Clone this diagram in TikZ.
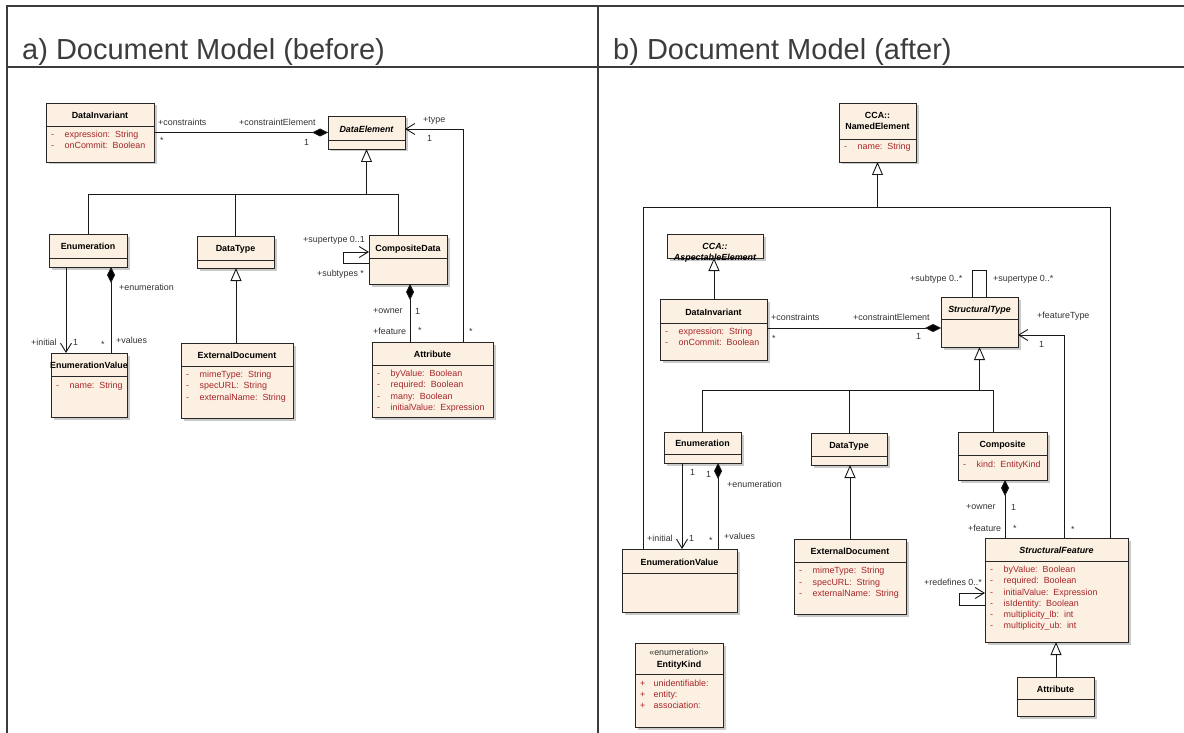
\documentclass[tikz,border=0pt]{standalone}
\usepackage{fontspec}
\setmainfont{Liberation Sans}
\usetikzlibrary{arrows.meta,shadows}
\definecolor{clsfill}{HTML}{FBF0E1}
\definecolor{attred}{HTML}{A8262A}
\definecolor{framecol}{HTML}{3C3C3C}
\definecolor{lblcol}{HTML}{333333}
\tikzset{
 clsbox/.style={draw=black!85, line width=0.9pt, fill=clsfill, inner sep=0pt, outer sep=0pt,
   drop shadow={shadow xshift=2.5pt,shadow yshift=-2.5pt,fill=black!35,opacity=0.6}},
 sepline/.style={draw=black!85, line width=0.9pt},
 cline/.style={draw=black!90, line width=0.9pt},
 gen/.style={cline,-{Triangle[length=13pt,width=11pt,fill=white]}},
 assoc/.style={cline,-{Straight Barb[length=9pt,width=11pt]}},
 comp/.style={cline,-{Diamond[length=16pt,width=8pt,fill=black]}},
 lbl/.style={inner sep=0pt, anchor=west, text=lblcol, font=\fontsize{8.9}{10}\selectfont, text height=6.3pt, text depth=1.8pt},
 ttl/.style={inner sep=0pt, text=black, font=\fontsize{8.9}{10}\selectfont\bfseries, text height=6.3pt, text depth=1.8pt},
 ittl/.style={ttl, font=\fontsize{8.9}{10}\selectfont\bfseries\itshape},
 attr/.style={lbl, text=attred},
 frameline/.style={draw=framecol, line width=2.2pt},
 ptitle/.style={inner sep=0pt, anchor=base west, text=framecol, font=\fontsize{29}{32}\selectfont},
}
\newcommand\umlclass[6]{%
  \node[clsbox, anchor=north west, minimum width={(#4-#2)*1pt}, minimum height={(#5-#3)*1pt}] (#1) at (#2,#3) {};
  \ifx&#6&\else\draw[sepline] (#1.west |- 0,#6) -- (#1.east |- 0,#6);\fi
}
\newcommand\attline[4]{\node[attr] at (#1+5,#2) {#3}; \node[attr] at (#1+18.5,#2) {#4};}
\begin{document}
\begin{tikzpicture}[x=1pt,y=-1pt]
\useasboundingbox (0,0) rectangle (1184,733);
% frame
\draw[frameline] (7,745) -- (7,6) -- (1195,6);
\draw[frameline] (7,67) -- (1195,67);
\draw[frameline] (598,6) -- (598,745);
\node[ptitle] (ta) at (22,60) {a) Document Model (before)};
\node[ptitle] (tb) at (613,60) {b) Document Model (after)};

% ===== left panel =====
\umlclass{DI}{46}{103}{154}{162}{126}
\node[ttl] (DIt) at (100,116) {DataInvariant};
\attline{46}{135}{-}{expression:\ \ String}
\attline{46}{146}{-}{onCommit:\ \ Boolean}

\umlclass{DE}{328}{116}{405}{149}{140}
\node[ittl] (DEt) at (366.5,130) {DataElement};

\umlclass{EN}{49}{234}{127}{267}{258}
\node[ttl] (ENt) at (88,247) {Enumeration};

\umlclass{EV}{51}{353}{127}{417}{376}
\node[ttl] (EVt) at (89,366) {EnumerationValue};
\attline{51}{386}{-}{name:\ \ String}

\umlclass{DT}{197}{236}{274}{268}{260}
\node[ttl] (DTt) at (235.5,249) {DataType};

\umlclass{ED}{181}{343}{293}{418}{366}
\node[ttl] (EDt) at (237,356) {ExternalDocument};
\attline{181}{375}{-}{mimeType:\ \ String}
\attline{181}{386.5}{-}{specURL:\ \ String}
\attline{181}{398}{-}{externalName:\ \ String}

\umlclass{CD}{369}{235}{447}{284}{258}
\node[ttl] (CDt) at (408,249) {CompositeData};

\umlclass{AT}{372}{342}{493}{417}{365}
\node[ttl] (ATt) at (432.5,355) {Attribute};
\attline{372}{374}{-}{byValue:\ \ Boolean}
\attline{372}{385.5}{-}{required:\ \ Boolean}
\attline{372}{397}{-}{many:\ \ Boolean}
\attline{372}{408.5}{-}{initialValue:\ \ Expression}

% left connectors
\draw[comp] (DI.east) -- (DE.west);
\node[lbl] at (158,123) {+constraints};
\node[lbl] at (160,141) {*};
\node[lbl] at (239,123) {+constraintElement};
\node[lbl] at (304,143) {1};

\draw[assoc] (AT.north -| 463,0) |- (DE.east |- 0,129);
\node[lbl] at (423,120) {+type};
\node[lbl] at (427,139) {1};
\node[lbl] at (469,332) {*};

\draw[gen] (DE.south |- 0,194) -- (DE.south);
\draw[cline] (EN.north) |- (398,194) -- (CD.north -| 398,0);
\draw[cline] (DT.north) -- (DT.north |- 0,194);

\draw[assoc] (EN.south -| 66,0) -- (EV.north -| 66,0);
\node[lbl] at (31,343) {+initial};
\node[lbl] at (73,343) {1};
\draw[comp] (EV.north -| 111,0) -- (EN.south -| 111,0);
\node[lbl] at (119,288) {+enumeration};
\node[lbl] at (101,345) {*};
\node[lbl] at (116,341) {+values};

\draw[gen] (ED.north -| 236,0) -- (DT.south -| 236,0);

\draw[assoc] (CD.west |- 0,263) -| (343,252) -- (CD.west |- 0,252);
\node[lbl] at (303,240) {+supertype 0..1};
\node[lbl] at (317,274) {+subtypes *};

\draw[comp] (AT.north -| 410,0) -- (CD.south -| 410,0);
\node[lbl] at (373,311) {+owner};
\node[lbl] at (415,312) {1};
\node[lbl] at (373,332) {+feature};
\node[lbl] at (418,331) {*};

% ===== right panel =====
\umlclass{NE}{839}{103}{916}{162}{139}
\node[ttl] (NEt1) at (877.5,116) {CCA::};
\node[ttl] (NEt2) at (877.5,127) {NamedElement};
\attline{839}{147}{-}{name:\ \ String}

\umlclass{AE}{667}{234}{763}{258}{}
\node[ittl] (AEt1) at (715,247) {CCA::};
\node[ittl] (AEt2) at (715,258) {AspectableElement};

\umlclass{DI2}{660}{299}{767}{360}{323}
\node[ttl] (DI2t) at (713.5,313) {DataInvariant};
\attline{660}{332}{-}{expression:\ \ String}
\attline{660}{343}{-}{onCommit:\ \ Boolean}

\umlclass{ST}{941}{297}{1018}{347}{319}
\node[ittl] (STt) at (979.5,310) {StructuralType};

\umlclass{EN2}{664}{432}{741}{463}{454}
\node[ttl] (EN2t) at (702.5,444) {Enumeration};

\umlclass{EV2}{622}{549}{737}{612}{573}
\node[ttl] (EV2t) at (679.5,563) {EnumerationValue};

\umlclass{DT2}{811}{433}{887}{465}{456}
\node[ttl] (DT2t) at (849,446) {DataType};

\umlclass{ED2}{794}{539}{906}{614}{562}
\node[ttl] (ED2t) at (850,552) {ExternalDocument};
\attline{794}{571}{-}{mimeType:\ \ String}
\attline{794}{583}{-}{specURL:\ \ String}
\attline{794}{594}{-}{externalName:\ \ String}

\umlclass{EK}{635}{643}{723}{727}{674}
\node[lbl, anchor=center] (EKs) at (679,653) {«enumeration»};
\node[ttl] (EKt) at (679,665) {EntityKind};
\attline{635}{684}{+}{unidentifiable:}
\attline{635}{695}{+}{entity:}
\attline{635}{706}{+}{association:}

\umlclass{CO}{958}{432}{1047}{480}{455}
\node[ttl] (COt) at (1002.5,445) {Composite};
\attline{958}{465}{-}{kind:\ \ EntityKind}

\umlclass{SF}{985}{538}{1128}{642}{561}
\node[ittl] (SFt) at (1056.5,551) {StructuralFeature};
\attline{985}{570}{-}{byValue:\ \ Boolean}
\attline{985}{581}{-}{required:\ \ Boolean}
\attline{985}{593}{-}{initialValue:\ \ Expression}
\attline{985}{604}{-}{isIdentity:\ \ Boolean}
\attline{985}{615}{-}{multiplicity\_lb:\ \ int}
\attline{985}{626}{-}{multiplicity\_ub:\ \ int}

\umlclass{AT2}{1017}{677}{1094}{716}{699}
\node[ttl] (AT2t) at (1055.5,690) {Attribute};

% right connectors
\draw[gen] (NE.south |- 0,207) -- (NE.south);
\draw[cline] (EV2.north -| 643,0) |- (1110,207) -- (SF.north -| 1110,0);

\draw[gen] (DI2.north -| 714,0) -- (AE.south -| 714,0);

\draw[comp] (DI2.east |- 0,328) -- (ST.west |- 0,328);
\node[lbl] at (771,318) {+constraints};
\node[lbl] at (772,339) {*};
\node[lbl] at (853,318) {+constraintElement};
\node[lbl] at (916,337) {1};

\draw[cline] (ST.north -| 972,0) |- (986,270) -- (ST.north -| 986,0);
\node[lbl] at (910,279) {+subtype 0..*};
\node[lbl] at (993,279) {+supertype 0..*};

\draw[assoc] (SF.north -| 1064,0) |- (ST.east |- 0,335);
\node[lbl] at (1037,316) {+featureType};
\node[lbl] at (1039,345) {1};
\node[lbl] at (1071,530) {*};

\draw[gen] (ST.south |- 0,390) -- (ST.south);
\draw[cline] (EN2.north -| 702,0) |- (993,390) -- (CO.north -| 993,0);
\draw[cline] (DT2.north -| 849,0) -- (849,390);

\draw[assoc] (EN2.south -| 682,0) -- (EV2.north -| 682,0);
\node[lbl] at (690,473) {1};
\node[lbl] at (647,539) {+initial};
\node[lbl] at (689,539) {1};
\draw[comp] (EV2.north -| 718,0) -- (EN2.south -| 718,0);
\node[lbl] at (706,475) {1};
\node[lbl] at (727,485) {+enumeration};
\node[lbl] at (709,541) {*};
\node[lbl] at (724,537) {+values};

\draw[gen] (ED2.north -| 850,0) -- (DT2.south -| 850,0);

\draw[comp] (SF.north -| 1005,0) -- (CO.south -| 1005,0);
\node[lbl] at (966,507) {+owner};
\node[lbl] at (1011,508) {1};
\node[lbl] at (968,529) {+feature};
\node[lbl] at (1013,529) {*};

\draw[assoc] (SF.west |- 0,605) -| (959,593) -- (SF.west |- 0,593);
\node[lbl] at (924,583) {+redefines 0..*};

\draw[gen] (AT2.north -| 1056,0) -- (SF.south -| 1056,0);
\end{tikzpicture}
\end{document}
